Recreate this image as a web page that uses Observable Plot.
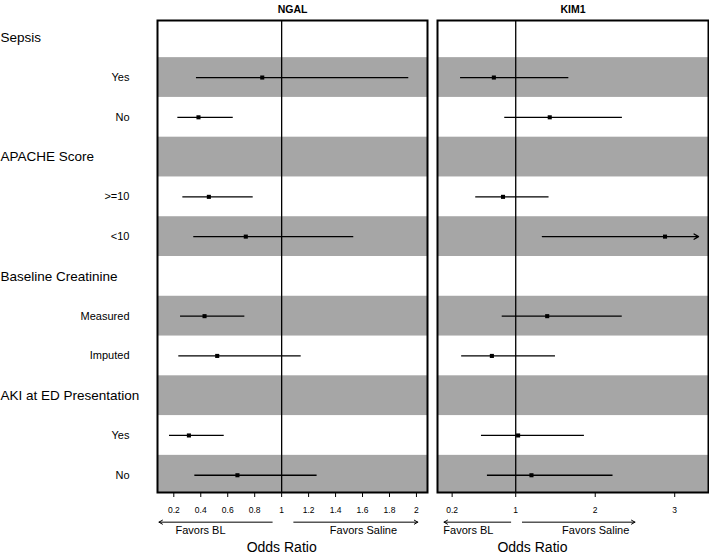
<!DOCTYPE html>
<html><head><meta charset="utf-8">
<script src="https://cdn.jsdelivr.net/npm/d3@7"></script>
<script src="https://cdn.jsdelivr.net/npm/@observablehq/plot@0.6"></script>
<style>
body{margin:0;background:#fff;}
#chart{display:flex;width:709px;height:555px;overflow:hidden;}
#chart svg{overflow:visible;display:block;}
</style></head><body><div id="chart"></div>
<script>
// Row labels (top to bottom)
const rowLabels = ["Sepsis","Yes","No","APACHE Score",">=10","<10","Baseline Creatinine","Measured","Imputed","AKI at ED Presentation","Yes","No"];
const rowIsHeader = [true,false,false,true,false,false,true,false,false,true,false,false];

// NGAL odds ratios with 95% CI
const ngalLo = [null,0.368,0.23,null,0.267,0.348,null,0.25,0.237,null,0.168,0.356];
const ngalOR = [null,0.856,0.383,null,0.46,0.734,null,0.428,0.522,null,0.312,0.672];
const ngalHi = [null,1.943,0.641,null,0.789,1.535,null,0.727,1.145,null,0.574,1.263];

// KIM1 odds ratios with 95% CI (upper CI of "<10" runs off the axis)
const kimLo = [null,0.306,0.862,null,0.497,1.335,null,0.83,0.32,null,0.569,0.644];
const kimOR = [null,0.725,1.428,null,0.84,2.878,null,1.396,0.70,null,1.03,1.198];
const kimHi = [null,1.668,2.342,null,1.419,3.6,null,2.34,1.5,null,1.864,2.224];

// Axis ticks
const ngalTicks = [0.2,0.4,0.6,0.8,1,1.2,1.4,1.6,1.8,2];
const ngalTickLabels = ["0.2","0.4","0.6","0.8","1","1.2","1.4","1.6","1.8","2"];
const kimTicks = [0.2,1,2,3];
const kimTickLabels = ["0.2","1","2","3"];

const FONT = "'Liberation Sans', Arial, Helvetica, sans-serif";
const GREY = "#a6a6a6";
const yPad = 0.434;
const arrowRow = 12.18, favorsRow = 12.38, xlabelRow = 12.81;

function panel(o) {
  const rows = rowLabels.map((label, i) => ({i, label, header: rowIsHeader[i], lo: o.lo[i], or: o.or[i], hi: o.hi[i]}));
  const est = rows.filter(d => d.or != null);
  const [x0, x1] = o.domain;
  const inside = est.filter(d => d.hi <= x1);
  const over = est.filter(d => d.hi > x1);
  const grey = rows.filter(d => d.i % 2 === 1);
  const labelMap = new Map(o.ticks.map((t, k) => [t, o.tickLabels[k]]));
  const marks = [
    Plot.rect(grey, {x1: x0, x2: x1, y1: d => Math.max(d.i - 0.5, -yPad), y2: d => Math.min(d.i + 0.5, 11 + yPad), fill: GREY}),
    Plot.ruleX([1], {stroke: "black", strokeWidth: 1.3}),
    Plot.ruleY(inside, {y: "i", x1: "lo", x2: "hi", stroke: "black", strokeWidth: 1.3}),
    Plot.arrow(over, {x1: "lo", x2: o.clipEnd, y1: "i", y2: "i", stroke: "black", strokeWidth: 1.3, headLength: 6}),
    Plot.dot(est, {x: "or", y: "i", symbol: "square", r: 2.3, fill: "black"}),
    Plot.frame({stroke: "black", strokeWidth: 2}),
    Plot.text([o.title], {frameAnchor: "top", dy: -15, fontWeight: "bold", fontSize: 10.5}),
    Plot.arrow(o.arrows, {x1: "from", x2: "to", y1: arrowRow, y2: arrowRow, stroke: "black", strokeWidth: 1, headLength: 6}),
    Plot.text(o.favors, {x: "x", y: favorsRow, text: "text", fontSize: 11}),
    Plot.text(["Odds Ratio"], {x: o.xlabelAt, y: xlabelRow, fontSize: 14})
  ];
  if (o.showLabels) {
    marks.push(
      Plot.text(rows.filter(d => d.header), {y: "i", text: "label", frameAnchor: "left", dx: -o.marginLeft, textAnchor: "start", fontSize: 13.5}),
      Plot.text(rows.filter(d => !d.header), {y: "i", text: "label", frameAnchor: "left", dx: -28, textAnchor: "end", fontSize: 11})
    );
  }
  return Plot.plot({
    width: o.width, height: 555,
    marginLeft: o.marginLeft, marginRight: o.marginRight, marginTop: 20, marginBottom: 63,
    style: {fontFamily: FONT, fontSize: "8.5px", color: "black", background: "white"},
    x: {domain: o.domain, ticks: o.ticks, tickFormat: d => labelMap.get(d), tickSize: 5, tickPadding: 9.5, label: null},
    y: {domain: [-yPad, 11 + yPad], reverse: true, axis: null},
    marks
  });
}

const chart = document.getElementById("chart");
chart.appendChild(panel({
  title: "NGAL", lo: ngalLo, or: ngalOR, hi: ngalHi,
  domain: [0.079, 2.082], ticks: ngalTicks, tickLabels: ngalTickLabels,
  width: 429, marginLeft: 157, marginRight: 2, showLabels: true, clipEnd: 2.0,
  arrows: [{from: 0.93, to: 0.09}, {from: 1.09, to: 2.01}],
  favors: [{x: 0.398, text: "Favors BL"}, {x: 1.607, text: "Favors Saline"}],
  xlabelAt: 1.0
}));
chart.appendChild(panel({
  title: "KIM1", lo: kimLo, or: kimOR, hi: kimHi,
  domain: [0.016, 3.425], ticks: kimTicks, tickLabels: kimTickLabels,
  width: 280, marginLeft: 8, marginRight: 1, showLabels: false, clipEnd: 3.30,
  arrows: [{from: 0.937, to: 0.098}, {from: 1.084, to: 2.5}],
  favors: [{x: 0.405, text: "Favors BL"}, {x: 2.006, text: "Favors Saline"}],
  xlabelAt: 1.21
}));
</script>
</body></html>
